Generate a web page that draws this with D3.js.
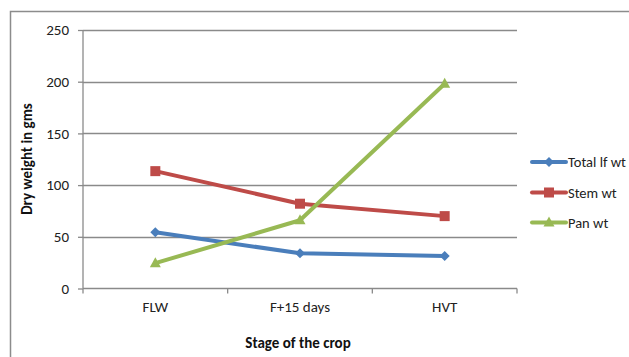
<!DOCTYPE html>
<html><head><meta charset="utf-8">
<script src="https://cdn.jsdelivr.net/npm/d3@7/dist/d3.min.js"></script>
<style>body{margin:0;background:#fff}svg{display:block}</style>
</head><body>
<svg id="c" width="629" height="357"></svg>
<script>
const categories = ["FLW", "F+15 days", "HVT"];
const totalLf = [54.5, 34, 31.5];
const stem = [113.5, 82, 70];
const pan = [24.5, 66, 198];
const yTicks = [0, 50, 100, 150, 200, 250];
const seriesNames = ["Total lf wt", "Stem wt", "Pan wt"];
const colors = ["#4a7ebb", "#be4b48", "#98b954"];
const shapes = ["diamond", "square", "triangle"];

const svg = d3.select("#c");
const font = "Calibri, Carlito, 'Liberation Sans', sans-serif";
// outer frame
svg.append("rect").attr("x", 10.5).attr("y", 11.5).attr("width", 700).attr("height", 400)
  .attr("fill", "none").attr("stroke", "#8c8c8c").attr("stroke-width", 1.5);

const L = 83, R = 517, T = 30, B = 288.5;
const x = d3.scaleBand().domain(categories).range([L, R]);
const y = d3.scaleLinear().domain([0, 250]).range([B, T]);

// gridlines
svg.append("g").selectAll("line").data(yTicks.filter(d => d > 0)).join("line")
  .attr("x1", L).attr("x2", R).attr("y1", d => Math.round(y(d)) + 0.5).attr("y2", d => Math.round(y(d)) + 0.5)
  .attr("stroke", "#8a8a8a").attr("stroke-width", 1.3);

// y axis
const ya = svg.append("g").attr("transform", `translate(${L},0)`)
  .call(d3.axisLeft(y).tickValues(yTicks).tickSize(5).tickPadding(9));
ya.select(".domain").attr("stroke", "#8a8a8a").attr("stroke-width", 1.3).attr("d", `M0,${T}V${B}`);
ya.selectAll(".tick line").attr("stroke", "#8a8a8a").attr("stroke-width", 1.3);
ya.selectAll("text").attr("font-family", font).attr("font-size", 15).attr("fill", "#222");

// x axis
const xa = svg.append("g").attr("transform", `translate(0,${B})`)
  .call(d3.axisBottom(x).tickSize(0).tickPadding(13));
xa.select(".domain").attr("stroke", "#8a8a8a").attr("stroke-width", 1.3).attr("d", `M${L},0H${R}`);
xa.selectAll("text").attr("font-family", font).attr("font-size", 15).attr("fill", "#222");
const bounds = [L, L + x.bandwidth(), L + 2 * x.bandwidth(), R];
xa.append("g").selectAll("line").data(bounds).join("line")
  .attr("x1", d => d).attr("x2", d => d).attr("y1", 0).attr("y2", 5)
  .attr("stroke", "#8a8a8a").attr("stroke-width", 1.3);

// titles
svg.append("text").attr("transform", "translate(32,159) rotate(-90)").attr("text-anchor", "middle")
  .attr("font-family", font).attr("font-weight", "bold").attr("font-size", 15).attr("fill", "#111")
  .text("Dry weight in gms");
svg.append("text").attr("x", 298).attr("y", 348).attr("text-anchor", "middle")
  .attr("font-family", font).attr("font-weight", "bold").attr("font-size", 15).attr("fill", "#111")
  .text("Stage of the crop");

function marker(g, shape, cx, cy, color, s) {
  if (shape === "diamond") {
    g.append("path").attr("d", `M${cx},${cy - s}L${cx + s},${cy}L${cx},${cy + s}L${cx - s},${cy}Z`).attr("fill", color);
  } else if (shape === "square") {
    g.append("rect").attr("x", cx - s).attr("y", cy - s).attr("width", 2 * s).attr("height", 2 * s).attr("fill", color);
  } else {
    g.append("path").attr("d", `M${cx},${cy - s * 1.2}L${cx + s * 1.1},${cy + s * 0.8}L${cx - s * 1.1},${cy + s * 0.8}Z`).attr("fill", color);
  }
}

const allSeries = [totalLf, stem, pan];
const line = d3.line().x((d, i) => x(categories[i]) + x.bandwidth() / 2).y(d => y(d));
allSeries.forEach((vals, k) => {
  const g = svg.append("g");
  g.append("path").datum(vals).attr("d", line).attr("fill", "none")
    .attr("stroke", colors[k]).attr("stroke-width", 4).attr("stroke-linejoin", "round");
  vals.forEach((v, i) => marker(g, shapes[k], x(categories[i]) + x.bandwidth() / 2, y(v), colors[k], 5));
});

// legend
const legY = [162, 192.5, 222.5];
seriesNames.forEach((n, k) => {
  const g = svg.append("g");
  g.append("line").attr("x1", 532).attr("x2", 566).attr("y1", legY[k]).attr("y2", legY[k])
    .attr("stroke", colors[k]).attr("stroke-width", 4).attr("stroke-linecap", "round");
  marker(g, shapes[k], 549, legY[k], colors[k], 5);
  g.append("text").attr("x", 568).attr("y", legY[k] + 5).attr("font-family", font)
    .attr("font-size", 14.5).attr("fill", "#222").text(n);
});
</script>
</body></html>
